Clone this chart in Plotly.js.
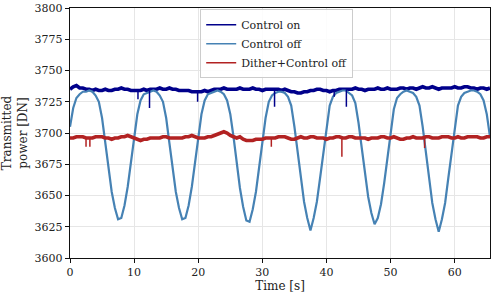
<!DOCTYPE html>
<html>
<head>
<meta charset="utf-8">
<script src="https://cdn.plot.ly/plotly-3.0.1.min.js"></script>
<style>html,body{margin:0;padding:0;background:#fff;}#chart{width:499px;height:298px;}</style>
</head>
<body>
<div id="chart"></div>
<script>
// time grid [s]
var timeS = [0,0.5,1,1.5,2,2.5,3,3.5,4,4.5,5,5.5,6,6.5,7,7.5,8,8.5,9,9.5,10,10.5,11,11.5,12,12.5,
13,13.5,14,14.5,15,15.5,16,16.5,17,17.5,18,18.5,19,19.5,20,20.5,21,21.5,22,22.5,
23,23.5,24,24.5,25,25.5,26,26.5,27,27.5,28,28.5,29,29.5,30,30.5,31,31.5,32,32.5,
33,33.5,34,34.5,35,35.5,36,36.5,37,37.5,38,38.5,39,39.5,40,40.5,41,41.5,42,42.5,
43,43.5,44,44.5,45,45.5,46,46.5,47,47.5,48,48.5,49,49.5,50,50.5,51,51.5,52,52.5,
53,53.5,54,54.5,55,55.5,56,56.5,57,57.5,58,58.5,59,59.5,60,60.5,61,61.5,62,62.5,
63,63.5,64,64.5,65,65.5];

var controlOn = [3735,3737,3738,3736,3736,3735,3735,3734,3735,3734,3734,3735,3734,3734,3735,3735,3736,3735,3735,3734,3734,3734,3734,3735,3734,3735,
3735,3735,3736,3735,3735,3736,3735,3735,3734,3734,3734,3734,3733,3733,3733,3733,3734,3733,3734,3735,
3735,3735,3736,3735,3735,3735,3735,3736,3735,3735,3735,3736,3735,3735,3734,3735,3735,3735,3735,3735,
3734,3735,3734,3733,3733,3732,3732,3733,3733,3734,3734,3735,3735,3734,3734,3733,3734,3734,3735,3735,
3735,3735,3735,3736,3735,3735,3734,3735,3735,3735,3736,3735,3735,3736,3735,3735,3735,3736,3736,3735,
3736,3736,3735,3736,3737,3736,3736,3737,3736,3735,3736,3736,3736,3736,3737,3736,3736,3737,3737,3736,
3736,3735,3736,3736,3735,3736];

var controlOff = [3705,3720,3728,3731,3733,3733,3734,3733,3730,3725,3712,3692,3672,3653,3640,3631,3632,3642,3657,3676,3697,3715,3726,3731,3732,3733,
3734,3733,3730,3725,3712,3692,3672,3653,3640,3631,3632,3642,3657,3676,3697,3715,3726,3731,3732,3733,
3734,3733,3731,3726,3715,3697,3676,3656,3641,3630,3629,3639,3653,3672,3692,3712,3725,3730,3732,3733,
3733,3732,3729,3722,3705,3684,3664,3645,3632,3622,3632,3645,3664,3684,3705,3722,3729,3732,3733,3734,
3734,3732,3730,3724,3708,3688,3668,3649,3636,3627,3632,3643,3660,3680,3701,3719,3728,3731,3733,3734,
3733,3732,3729,3722,3705,3684,3664,3644,3631,3621,3631,3644,3664,3684,3705,3722,3729,3732,3733,3734,
3734,3733,3731,3726,3715,3697];

var ditherOff = [3696,3696,3697,3697,3697,3696,3696,3696,3697,3697,3697,3696,3696,3695,3696,3696,3697,3697,3698,3697,3696,3695,3694,3695,3695,3696,
3696,3696,3696,3697,3697,3696,3696,3696,3696,3696,3697,3697,3698,3697,3696,3696,3696,3697,3697,3698,
3699,3700,3701,3700,3698,3697,3696,3697,3695,3694,3694,3694,3695,3695,3695,3696,3696,3696,3696,3697,
3697,3697,3696,3695,3695,3696,3697,3696,3696,3697,3697,3696,3696,3696,3695,3696,3696,3697,3697,3696,
3696,3697,3697,3696,3696,3696,3696,3695,3696,3696,3696,3697,3697,3696,3696,3697,3696,3695,3695,3696,
3696,3697,3696,3696,3696,3697,3697,3696,3696,3696,3697,3697,3697,3696,3696,3697,3696,3696,3697,3697,
3697,3697,3696,3696,3697,3697];

// narrow downward spikes: time, baseline, tip
var spikeOnT = [10.6,12.4,19.9,31.9,41.2,43.1];
var spikeOnBase = [3734,3734,3733,3735,3734,3735];
var spikeOnTip = [3727,3720,3725,3721,3729,3721];

var spikeDitT = [2.5,3.1,31.4,42.4,55.3];
var spikeDitBase = [3696,3696,3696,3696,3697];
var spikeDitTip = [3689,3689,3689,3681,3688];

var seriesNames = ['Control on','Control off','Dither+Control off'];
var xTicks = [0,10,20,30,40,50,60];

function spikes(t, b, tip){
  var x=[], y=[];
  for (var i=0;i<t.length;i++){ x.push(t[i],t[i],null); y.push(b[i],tip[i],null); }
  return {x:x,y:y};
}
var sOn = spikes(spikeOnT, spikeOnBase, spikeOnTip);
var sDi = spikes(spikeDitT, spikeDitBase, spikeDitTip);

var colors = ['#00008B', '#4682B4', '#B22222'];
var serif = 'DejaVu Serif, Liberation Serif, serif';

var traces = [
  {x:timeS, y:controlOn, mode:'lines', showlegend:false, line:{color:colors[0], width:3.5}},
  {x:timeS, y:controlOff, mode:'lines', showlegend:false, line:{color:colors[1], width:2.2}},
  {x:timeS, y:ditherOff, mode:'lines', showlegend:false, line:{color:colors[2], width:3.5}},
  {x:sOn.x, y:sOn.y, mode:'lines', showlegend:false, line:{color:colors[0], width:1.5}},
  {x:sDi.x, y:sDi.y, mode:'lines', showlegend:false, line:{color:colors[2], width:1.5}}
];
// legend-only entries (thin legend lines as in the reference)
for (var k=0;k<seriesNames.length;k++){
  traces.push({x:[null], y:[null], mode:'lines', name:seriesNames[k], line:{color:colors[k], width:1.6}});
}

var layout = {
  width:499, height:298,
  margin:{l:70, r:9, t:8, b:40},
  paper_bgcolor:'#ffffff', plot_bgcolor:'#ffffff',
  font:{family:serif, size:11, color:'#222222'},
  showlegend:true,
  xaxis:{range:[0,65.5], tickvals:xTicks, showline:true, mirror:true, linecolor:'#111', linewidth:1.2,
    ticks:'outside', ticklen:4, tickcolor:'#111', showgrid:true, gridcolor:'#e6e6e6', zeroline:false,
    tickfont:{family:serif, size:11, color:'#222'},
    title:{text:'Time [s]', font:{family:serif, size:12, color:'#222'}, standoff:3}},
  yaxis:{range:[3600,3800], dtick:25, showline:true, mirror:true, linecolor:'#111', linewidth:1.2,
    ticks:'outside', ticklen:4, tickcolor:'#111', showgrid:true, gridcolor:'#e6e6e6', zeroline:false,
    tickfont:{family:serif, size:11, color:'#222'},
    title:{text:'Transmitted<br>power [DN]', font:{family:serif, size:12, color:'#222'}, standoff:6}},
  legend:{x:0.31, y:0.995, xanchor:'left', yanchor:'top', bgcolor:'rgba(255,255,255,0.85)',
    bordercolor:'#cccccc', borderwidth:1, font:{family:serif, size:11, color:'#222'}, itemwidth:30, tracegroupgap:0}
};

Plotly.newPlot('chart', traces, layout, {staticPlot:true, displayModeBar:false});
</script>
</body>
</html>
